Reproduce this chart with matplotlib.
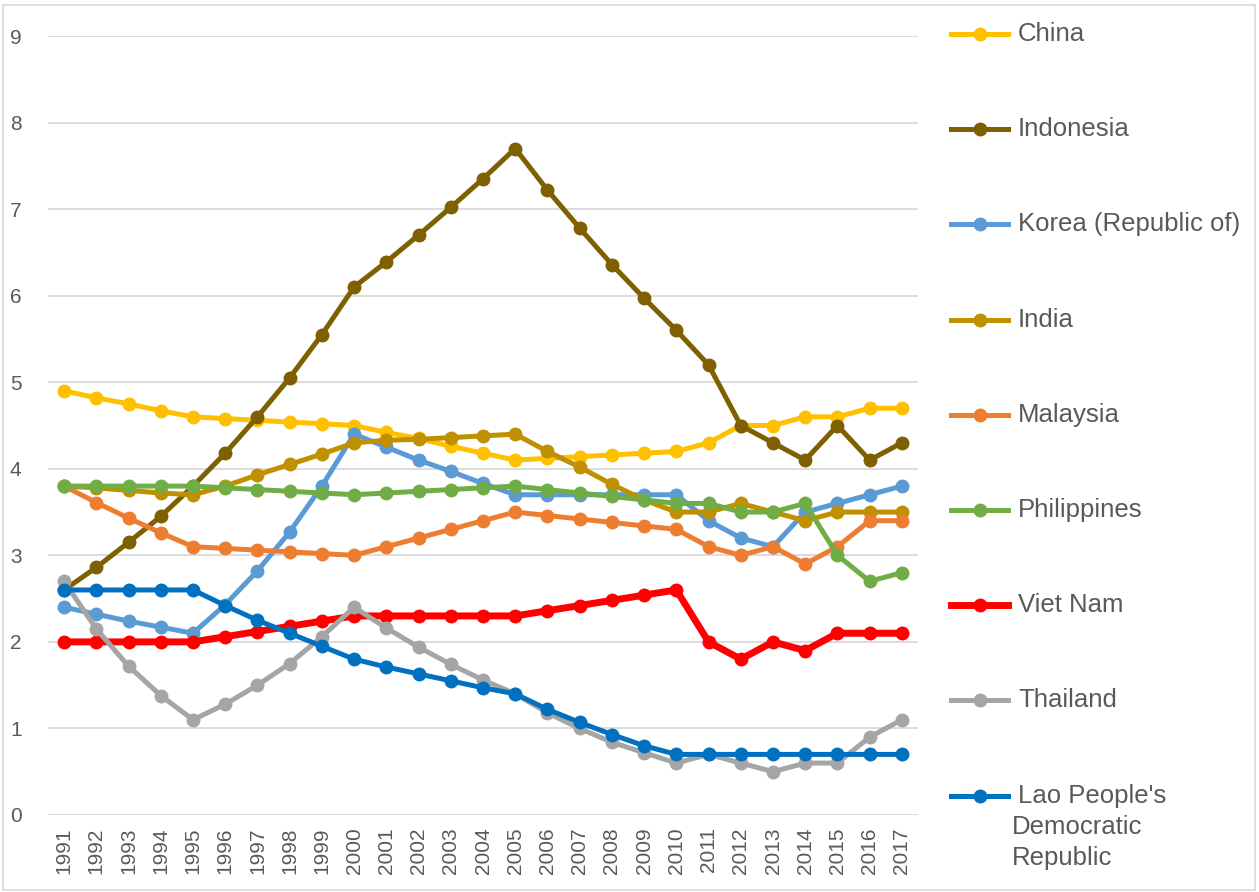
import matplotlib.pyplot as plt
from matplotlib.lines import Line2D
from matplotlib.patches import Rectangle

plt.rcParams['font.family'] = ['Liberation Sans', 'DejaVu Sans']

years = list(range(1991, 2018))

china = [4.9, 4.82, 4.75, 4.67, 4.6, 4.58, 4.56, 4.54, 4.52, 4.5, 4.42, 4.35, 4.26, 4.18,
         4.1, 4.12, 4.14, 4.16, 4.18, 4.2, 4.3, 4.5, 4.5, 4.6, 4.6, 4.7, 4.7]
indonesia = [2.6, 2.86, 3.15, 3.45, 3.8, 4.18, 4.6, 5.05, 5.55, 6.1, 6.39, 6.7, 7.02, 7.35,
             7.7, 7.22, 6.78, 6.36, 5.97, 5.6, 5.2, 4.5, 4.3, 4.1, 4.5, 4.1, 4.3]
korea = [2.4, 2.32, 2.24, 2.17, 2.1, 2.43, 2.82, 3.27, 3.8, 4.4, 4.25, 4.1, 3.97, 3.83,
         3.7, 3.7, 3.7, 3.7, 3.7, 3.7, 3.4, 3.2, 3.1, 3.5, 3.6, 3.7, 3.8]
india = [3.8, 3.78, 3.75, 3.72, 3.7, 3.8, 3.93, 4.05, 4.17, 4.3, 4.33, 4.34, 4.36, 4.38,
         4.4, 4.2, 4.02, 3.82, 3.64, 3.5, 3.5, 3.6, 3.5, 3.4, 3.5, 3.5, 3.5]
malaysia = [3.8, 3.61, 3.43, 3.26, 3.1, 3.08, 3.06, 3.04, 3.02, 3.0, 3.1, 3.2, 3.3, 3.4,
            3.5, 3.46, 3.42, 3.38, 3.34, 3.3, 3.1, 3.0, 3.1, 2.9, 3.1, 3.4, 3.4]
philippines = [3.8, 3.8, 3.8, 3.8, 3.8, 3.78, 3.76, 3.74, 3.72, 3.7, 3.72, 3.74, 3.76, 3.78,
               3.8, 3.76, 3.72, 3.68, 3.64, 3.6, 3.6, 3.5, 3.5, 3.6, 3.0, 2.7, 2.8]
viet_nam = [2.0, 2.0, 2.0, 2.0, 2.0, 2.06, 2.12, 2.18, 2.24, 2.3, 2.3, 2.3, 2.3, 2.3,
            2.3, 2.36, 2.42, 2.48, 2.54, 2.6, 2.0, 1.8, 2.0, 1.9, 2.1, 2.1, 2.1]
thailand = [2.7, 2.15, 1.72, 1.38, 1.1, 1.28, 1.5, 1.75, 2.06, 2.4, 2.16, 1.94, 1.74, 1.56,
            1.4, 1.18, 1.0, 0.84, 0.72, 0.6, 0.7, 0.6, 0.5, 0.6, 0.6, 0.9, 1.1]
lao = [2.6, 2.6, 2.6, 2.6, 2.6, 2.42, 2.25, 2.1, 1.95, 1.8, 1.71, 1.63, 1.55, 1.47,
       1.4, 1.22, 1.07, 0.93, 0.8, 0.7, 0.7, 0.7, 0.7, 0.7, 0.7, 0.7, 0.7]

names = ["China", "Indonesia", "Korea (Republic of)", "India", "Malaysia",
         "Philippines", "Viet Nam", "Thailand", "Lao People's\nDemocratic\nRepublic"]
series = [china, indonesia, korea, india, malaysia, philippines, viet_nam, thailand, lao]
colors = ["#FFC000", "#7F6000", "#5B9BD5", "#BF9000", "#ED7D31",
          "#70AD47", "#FF0000", "#A5A5A5", "#0070C0"]

fig = plt.figure(figsize=(12.59, 8.92), dpi=100)
ax = fig.add_axes([48 / 1259, 1 - 815 / 892, 870 / 1259, 779 / 892])

x = list(range(len(years)))
for name, vals, c in zip(names, series, colors):
    lw = 5.0 if name == "Viet Nam" else 3.6
    ax.plot(x, vals, color=c, lw=lw, marker="o", markersize=9, solid_joinstyle="round")

ax.set_xlim(-0.5, len(years) - 0.5)
ax.set_ylim(0, 9)
ax.set_yticks(range(10))
ax.set_xticks(x)
ax.set_xticklabels([str(y) for y in years], rotation=90)
ax.tick_params(axis="both", length=0, labelsize=15, labelcolor="#595959")
ax.tick_params(axis="y", pad=19)
ax.tick_params(axis="x", pad=9)
ax.grid(axis="y", color="#D9D9D9", lw=1.3)
ax.set_axisbelow(True)
for s in ax.spines.values():
    s.set_visible(False)

# legend drawn by hand so the wrapped last entry lines up like the original
W, H = 1259, 892
for i, (name, c) in enumerate(zip(names, colors)):
    ypx = 34 + i * 95.2
    yf = 1 - ypx / H
    lw = 5.0 if name == "Viet Nam" else 3.6
    fig.add_artist(Line2D([951 / W, 1008 / W], [yf, yf], color=c, lw=lw,
                          transform=fig.transFigure))
    fig.add_artist(Line2D([979.5 / W], [yf], color=c, marker="o", markersize=9,
                          transform=fig.transFigure))
    for j, part in enumerate(name.split("\n")):
        xpx = 1018 if j == 0 else 1012
        fig.text(xpx / W, 1 - (ypx + j * 31) / H, part, fontsize=18.5, color="#595959",
                 va="center", transform=fig.transFigure)

fig.add_artist(Rectangle((0.002, 0.002), 0.995, 0.992, fill=False, edgecolor="#D9D9D9",
                         lw=1.2, transform=fig.transFigure))

fig.savefig("out.png", dpi=100)
